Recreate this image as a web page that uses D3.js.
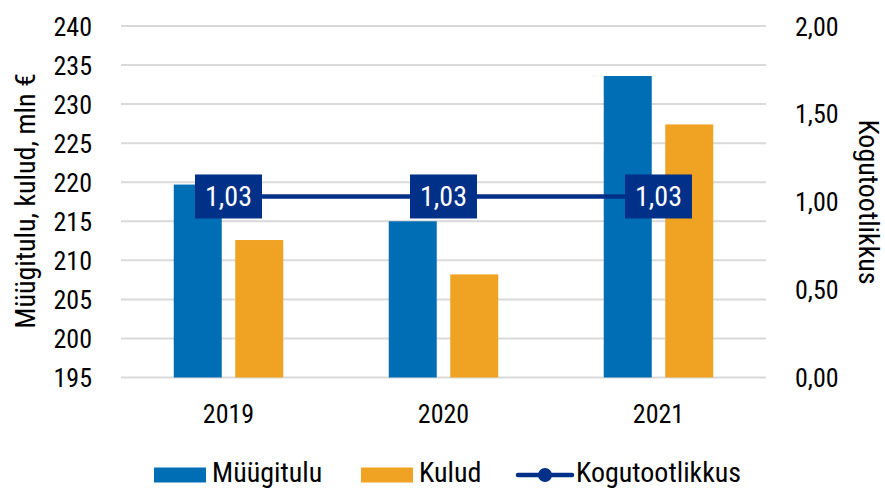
<!DOCTYPE html>
<html>
<head>
<meta charset="utf-8">
<script src="https://cdn.jsdelivr.net/npm/d3@7"></script>
<style>
  body { margin: 0; background: #fff; }
  svg text { font-family: "Roboto Condensed", Roboto, sans-serif; font-stretch: 75%; fill: #000; }
  svg text.big { font-stretch: 80%; }
</style>
</head>
<body>
<svg id="chart"></svg>
<script>
// data
const years = ['2019', '2020', '2021']
const myygitulu = [219.7, 215.0, 233.6]
const kulud = [212.6, 208.2, 227.4]
const kogutootlikkus = [1.03, 1.03, 1.03]
const leftTicks = [195, 200, 205, 210, 215, 220, 225, 230, 235, 240]
const rightTicks = [0, 0.5, 1, 1.5, 2]

const w = 885
const h = 489
const margin = { top: 26, right: 119, bottom: 111.5, left: 121 }

const svg = d3.select('#chart')
  .attr('width', w)
  .attr('height', h)

const x = d3.scaleBand()
  .domain(years)
  .range([margin.left, w - margin.right])

const yLeft = d3.scaleLinear()
  .domain([195, 240])
  .range([h - margin.bottom, margin.top])

const yRight = d3.scaleLinear()
  .domain([0, 2])
  .range([h - margin.bottom, margin.top])

const barW = 48
const gap = 13.5
const fmt = d => d3.format('.2f')(d).replace('.', ',')

// gridlines
svg.append('g')
  .selectAll('line')
  .data(leftTicks)
  .join('line')
    .attr('x1', margin.left)
    .attr('x2', w - margin.right)
    .attr('y1', d => yLeft(d))
    .attr('y2', d => yLeft(d))
    .attr('stroke', '#d9d9d9')
    .attr('stroke-width', 2)

// left axis
const leftAxis = svg.append('g')
  .attr('transform', `translate(${margin.left - 29}, 0)`)
  .call(d3.axisLeft(yLeft).tickValues(leftTicks).tickSize(0).tickPadding(0))
leftAxis.select('.domain').remove()
leftAxis.selectAll('text')
  .attr('font-size', 26)
  .attr('dy', '0.35em')

// right axis
const rightAxis = svg.append('g')
  .attr('transform', `translate(${w - margin.right + 29}, 0)`)
  .call(d3.axisRight(yRight).tickValues(rightTicks).tickFormat(fmt).tickSize(0).tickPadding(0))
rightAxis.select('.domain').remove()
rightAxis.selectAll('text')
  .attr('font-size', 26)
  .attr('dy', '0.35em')

// x axis
const xAxis = svg.append('g')
  .attr('transform', `translate(0, ${h - margin.bottom})`)
  .call(d3.axisBottom(x).tickSize(0).tickPadding(0))
xAxis.select('.domain').remove()
xAxis.selectAll('text')
  .attr('font-size', 26)
  .attr('y', 36)
  .attr('dy', '0.35em')

// bars
const center = d => x(d) + x.bandwidth() / 2
svg.append('g')
  .selectAll('rect')
  .data(years)
  .join('rect')
    .attr('x', d => center(d) - gap / 2 - barW)
    .attr('y', (d, i) => yLeft(myygitulu[i]))
    .attr('width', barW)
    .attr('height', (d, i) => yLeft(195) - yLeft(myygitulu[i]))
    .attr('fill', '#006eb5')

svg.append('g')
  .selectAll('rect')
  .data(years)
  .join('rect')
    .attr('x', d => center(d) + gap / 2)
    .attr('y', (d, i) => yLeft(kulud[i]))
    .attr('width', barW)
    .attr('height', (d, i) => yLeft(195) - yLeft(kulud[i]))
    .attr('fill', '#f0a323')

// line
const lineData = years.map((d, i) => ({ year: d, value: kogutootlikkus[i] }))
const line = d3.line()
  .x(d => center(d.year))
  .y(d => yRight(d.value))

svg.append('path')
  .datum(lineData)
  .attr('d', line)
  .attr('fill', 'none')
  .attr('stroke', '#003087')
  .attr('stroke-width', 4.5)

// data labels
const labels = svg.append('g')
  .selectAll('g')
  .data(lineData)
  .join('g')
    .attr('transform', d => `translate(${center(d.year)}, ${yRight(d.value)})`)
labels.append('rect')
  .attr('x', -33.5)
  .attr('y', -22)
  .attr('width', 67)
  .attr('height', 44)
  .attr('fill', '#003087')
labels.append('text')
  .attr('class', 'big')
  .attr('text-anchor', 'middle')
  .attr('dy', '0.35em')
  .attr('font-size', 28)
  .style('fill', '#fff')
  .text(d => fmt(d.value))

// axis titles
svg.append('text')
  .attr('class', 'big')
  .attr('transform', 'translate(25, 201) rotate(-90)')
  .attr('text-anchor', 'middle')
  .attr('dy', '0.35em')
  .attr('font-size', 28)
  .text('Müügitulu, kulud, mln €')

svg.append('text')
  .attr('class', 'big')
  .attr('transform', 'translate(869, 202) rotate(90)')
  .attr('text-anchor', 'middle')
  .attr('dy', '0.35em')
  .attr('font-size', 28)
  .text('Kogutootlikkus')

// legend
const legend = svg.append('g').attr('transform', 'translate(0, 474)')
legend.append('rect').attr('x', 154).attr('y', -6.5).attr('width', 52).attr('height', 15).attr('fill', '#006eb5')
legend.append('text').attr('class', 'big').attr('x', 212).attr('dy', '0.3em').attr('font-size', 28).text('Müügitulu')
legend.append('rect').attr('x', 361).attr('y', -6.5).attr('width', 52).attr('height', 15).attr('fill', '#f0a323')
legend.append('text').attr('class', 'big').attr('x', 419).attr('dy', '0.3em').attr('font-size', 28).text('Kulud')
legend.append('line').attr('x1', 518).attr('x2', 572).attr('y1', 1).attr('y2', 1)
  .attr('stroke', '#003087').attr('stroke-width', 4.5).attr('stroke-linecap', 'round')
legend.append('circle').attr('cx', 545).attr('cy', 1).attr('r', 7).attr('fill', '#003087')
legend.append('text').attr('class', 'big').attr('x', 576).attr('dy', '0.3em').attr('font-size', 28).text('Kogutootlikkus')
</script>
</body>
</html>
